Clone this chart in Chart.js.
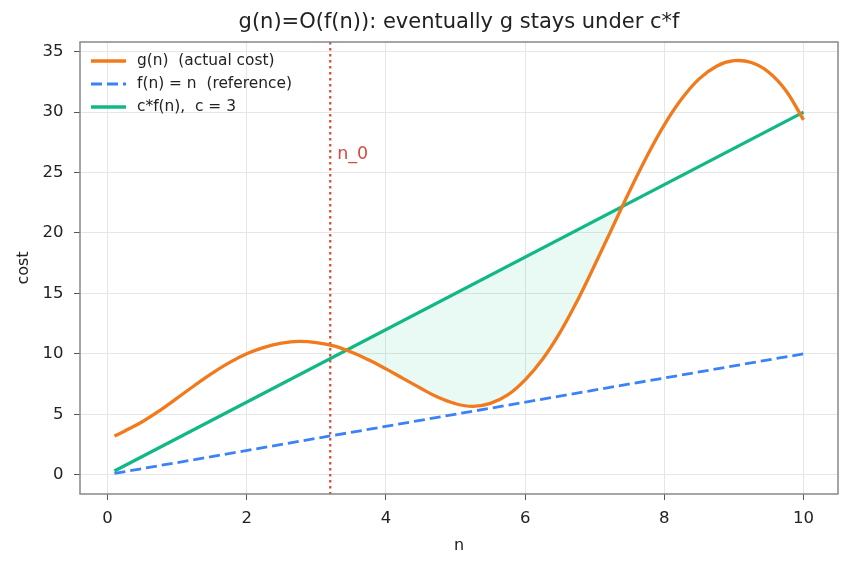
<!DOCTYPE html>
<html>
<head>
<meta charset="utf-8">
<script src="https://cdn.jsdelivr.net/npm/chart.js@4.4.1/dist/chart.umd.min.js"></script>
<style>
  html, body { margin: 0; padding: 0; background: #fff; }
  canvas { display: block; }
</style>
</head>
<body>
<canvas id="chart" width="852" height="567"></canvas>
<script>
const titleText = "g(n)=O(f(n)): eventually g stays under c*f";
const nSample = [0.1, 0.25, 0.5, 0.75, 1, 1.25, 1.5, 1.75, 2, 2.25, 2.5, 2.75, 3, 3.25, 3.5, 3.75, 4, 4.25, 4.5, 4.75, 5,
    5.25, 5.5, 5.75, 6, 6.25, 6.5, 6.75, 7, 7.25, 7.5, 7.75, 8, 8.25, 8.5, 8.75, 9, 9.25, 9.5, 9.75, 10];
const gValues = [3.2, 3.62, 4.38, 5.3, 6.33, 7.38, 8.38, 9.27, 10.0, 10.53, 10.88, 11.03, 10.93, 10.65, 10.15, 9.5, 8.75, 7.95, 7.15, 6.4, 5.87,
    5.65, 5.9, 6.6, 7.85, 9.55, 11.75, 14.4, 17.35, 20.4, 23.45, 26.35, 28.95, 31.1, 32.75, 33.8, 34.25, 34.1, 33.3, 31.75, 29.35];
const nLine = [0.1, 10];
const fValues = [0.1, 10];
const cfValues = [0.3, 30];
const n0 = 3.2;
const xTicks = [0, 2, 4, 6, 8, 10];
const yTicks = [0, 5, 10, 15, 20, 25, 30, 35];
const labels = ["g(n)  (actual cost)", "f(n) = n  (reference)", "c*f(n),  c = 3"];

const FONT = "'DejaVu Sans', sans-serif";
const colors = { g: "#f17a1c", f: "#3b82f6", cf: "#12b886", n0: "#d9483f" };

const toPts = (xs, ys) => xs.map((x, i) => ({ x, y: ys[i] }));

const overlay = {
    id: "overlay",
    beforeDatasetsDraw(chart) {
        const { ctx, chartArea: a, scales: { x } } = chart;
        const px = x.getPixelForValue(n0);
        ctx.save();
        ctx.strokeStyle = colors.n0;
        ctx.lineWidth = 2.2;
        ctx.setLineDash([2.5, 3.5]);
        ctx.beginPath();
        ctx.moveTo(px, a.top);
        ctx.lineTo(px, a.bottom);
        ctx.stroke();
        ctx.restore();
    },
    afterDraw(chart) {
        const { ctx, chartArea: a, scales: { x, y } } = chart;
        ctx.save();
        // frame
        ctx.strokeStyle = "#888";
        ctx.lineWidth = 1.5;
        ctx.strokeRect(a.left, a.top, a.right - a.left, a.bottom - a.top);
        // title
        ctx.fillStyle = "#222";
        ctx.font = `21px ${FONT}`;
        ctx.textAlign = "center";
        ctx.textBaseline = "middle";
        ctx.fillText(titleText, (a.left + a.right) / 2, 23);
        // n_0 label
        ctx.fillStyle = colors.n0;
        ctx.font = `17.5px ${FONT}`;
        ctx.textAlign = "left";
        ctx.fillText("n_0", x.getPixelForValue(n0) + 7, y.getPixelForValue(26.5));
        // legend
        const styles = [
            { c: colors.g, w: 3.3, dash: [] },
            { c: colors.f, w: 2.8, dash: [11, 5] },
            { c: colors.cf, w: 3.3, dash: [] }
        ];
        ctx.font = `15.4px ${FONT}`;
        ctx.fillStyle = "#222";
        labels.forEach((t, i) => {
            const ly = a.top + 19 + i * 23;
            ctx.strokeStyle = styles[i].c;
            ctx.lineWidth = styles[i].w;
            ctx.setLineDash(styles[i].dash);
            ctx.beginPath();
            ctx.moveTo(a.left + 11, ly);
            ctx.lineTo(a.left + 46, ly);
            ctx.stroke();
            ctx.fillText(t, a.left + 57, ly);
        });
        ctx.restore();
    }
};

new Chart(document.getElementById("chart"), {
    type: "line",
    data: {
        datasets: [
            {
                label: labels[0],
                data: toPts(nSample, gValues),
                borderColor: colors.g,
                borderWidth: 3.3,
                pointRadius: 0,
                tension: 0.4,
                fill: { target: 2, above: "rgba(0,0,0,0)", below: "rgba(16,185,129,0.09)" }
            },
            {
                label: labels[1],
                data: toPts(nLine, fValues),
                borderColor: colors.f,
                borderWidth: 2.8,
                borderDash: [11, 5],
                pointRadius: 0,
                fill: false
            },
            {
                label: labels[2],
                data: toPts(nLine, cfValues),
                borderColor: colors.cf,
                borderWidth: 3.3,
                pointRadius: 0,
                fill: false
            }
        ]
    },
    options: {
        responsive: false,
        animation: false,
        layout: { padding: { top: 42, right: 14, left: 0, bottom: 0 } },
        plugins: { legend: { display: false }, tooltip: { enabled: false } },
        scales: {
            x: {
                type: "linear",
                min: -0.395,
                max: 10.495,
                afterBuildTicks: s => { s.ticks = xTicks.map(v => ({ value: v })); },
                afterFit: s => { s.height = 73; },
                grid: { color: "#e6e6e6", tickColor: "#555", tickLength: 6, drawTicks: true },
                border: { display: false },
                ticks: { color: "#222", font: { family: FONT, size: 16.5 }, padding: 9, maxRotation: 0 },
                title: { display: true, text: "n", color: "#222", font: { family: FONT, size: 16 }, padding: { top: 4, bottom: 12 } }
            },
            y: {
                type: "linear",
                min: -1.6,
                max: 35.8,
                afterBuildTicks: s => { s.ticks = yTicks.map(v => ({ value: v })); },
                afterFit: s => { s.width = 80; },
                grid: { color: "#e6e6e6", tickColor: "#555", tickLength: 6, drawTicks: true },
                border: { display: false },
                ticks: { color: "#222", font: { family: FONT, size: 16.5 }, padding: 10.5 },
                title: { display: true, text: "cost", color: "#222", font: { family: FONT, size: 16 }, padding: { top: 14, bottom: 4 } }
            }
        }
    },
    plugins: [overlay]
});
</script>
</body>
</html>
